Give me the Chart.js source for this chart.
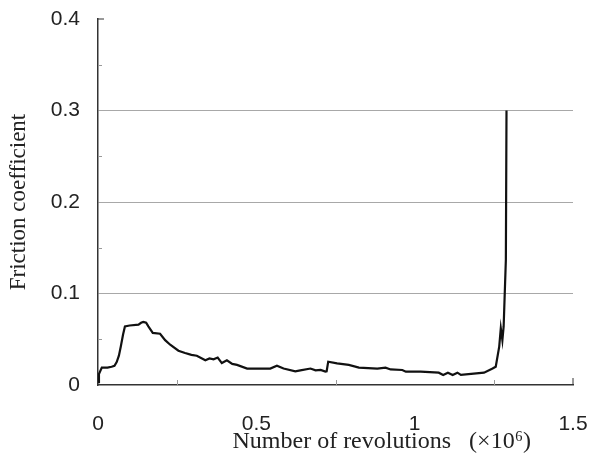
<!DOCTYPE html>
<html>
<head>
<meta charset="utf-8">
<script src="https://cdn.jsdelivr.net/npm/chart.js@4.4.0/dist/chart.umd.min.js"></script>
<style>
  body { margin: 0; background: #fff; }
  #wrap { width: 590px; height: 456px; }
</style>
</head>
<body>
<div id="wrap"><canvas id="myChart" width="590" height="456"></canvas></div>
<script>
const revs = [0, 0.003, 0.012, 0.03, 0.043, 0.052, 0.059, 0.066, 0.072, 0.079,
  0.085, 0.1, 0.128, 0.136, 0.143, 0.152, 0.159, 0.173, 0.196, 0.212,
  0.228, 0.254, 0.275, 0.295, 0.312, 0.339, 0.352, 0.365, 0.378, 0.391,
  0.407, 0.424, 0.439, 0.471, 0.513, 0.544, 0.565, 0.586, 0.623, 0.639,
  0.671, 0.687, 0.703, 0.718, 0.722, 0.727, 0.755, 0.792, 0.824, 0.882,
  0.908, 0.924, 0.961, 0.972, 1.019, 1.076, 1.09, 1.105, 1.12, 1.135,
  1.146, 1.219, 1.246, 1.256, 1.267, 1.272, 1.277, 1.281, 1.288, 1.29];
const friction = [0.003, 0.012, 0.019, 0.019, 0.02, 0.021, 0.025, 0.032, 0.042, 0.055,
  0.064, 0.065, 0.066, 0.068, 0.069, 0.068, 0.064, 0.057, 0.056, 0.049,
  0.044, 0.0375, 0.035, 0.033, 0.032, 0.027, 0.029, 0.028, 0.030, 0.024,
  0.027, 0.023, 0.022, 0.018, 0.018, 0.018, 0.021, 0.018, 0.015, 0.016,
  0.018, 0.016, 0.0165, 0.0146, 0.015, 0.0255, 0.0237, 0.022, 0.019, 0.018,
  0.019, 0.017, 0.0164, 0.0146, 0.0146, 0.0135, 0.011, 0.0135, 0.011, 0.0135,
  0.011, 0.0135, 0.018, 0.02, 0.042, 0.062, 0.049, 0.064, 0.137, 0.30];

const xTicks = [0, 0.5, 1, 1.5];
const yTicks = [0, 0.1, 0.2, 0.3, 0.4];
const yGridLines = [0.1, 0.2, 0.3];
const xMinor = [0.25, 0.75, 1.25];
const yMinor = [0.05, 0.15, 0.25, 0.35];

const points = revs.map((r, i) => ({ x: r, y: friction[i] }));

// small inner ticks like the original print
const minorTicks = {
  id: 'minorTicks',
  afterDraw(chart) {
    const c = chart.ctx, xs = chart.scales.x, ys = chart.scales.y;
    const a = chart.chartArea;
    c.save();
    c.strokeStyle = '#999';
    c.lineWidth = 1;
    c.beginPath();
    xMinor.forEach(v => {
      const px = Math.round(xs.getPixelForValue(v)) + 0.5;
      c.moveTo(px, a.bottom); c.lineTo(px, a.bottom - 5);
    });
    yMinor.forEach(v => {
      const py = Math.round(ys.getPixelForValue(v)) + 0.5;
      c.moveTo(a.left, py); c.lineTo(a.left + 4, py);
    });
    c.stroke();
    c.strokeStyle = '#333';
    c.beginPath();
    // end stubs
    const top = ys.getPixelForValue(0.4);
    c.moveTo(a.left, top); c.lineTo(a.left + 6, top);
    const right = xs.getPixelForValue(1.5);
    c.moveTo(right, a.bottom); c.lineTo(right, a.bottom - 7);
    c.stroke();
    c.restore();
  }
};

const ctx = document.getElementById('myChart').getContext('2d');
const frictionChart = new Chart(ctx, {
  type: 'line',
  data: {
    datasets: [{
      data: points,
      borderColor: '#111',
      borderWidth: 2.2,
      pointRadius: 0,
      tension: 0,
      fill: false
    }]
  },
  options: {
    responsive: false,
    animation: false,
    layout: { padding: { top: 19, right: 17, bottom: 0, left: 0 } },
    plugins: {
      legend: { display: false },
      tooltip: { enabled: false }
    },
    scales: {
      x: {
        type: 'linear',
        min: 0,
        max: 1.5,
        afterBuildTicks: s => { s.ticks = xTicks.map(v => ({ value: v })); },
        ticks: {
          color: '#222',
          padding: 27,
          maxRotation: 0,
          font: { family: 'Liberation Sans', size: 21 },
          callback: v => String(v)
        },
        grid: { display: false, drawTicks: false },
        border: { display: true, color: '#333', width: 1.5 },
        title: {
          display: true,
          align: 'end',
          // trailing spaces keep the title off the right edge, as in the print
          text: 'Number of revolutions   (\u00d710\u2076)       ',
          color: '#222',
          font: { family: 'Liberation Serif', size: 24 },
          padding: { top: -8, bottom: 0 }
        },
        afterFit: s => {
          s.height = 71;
          s.paddingLeft = 0;
          s.paddingRight = 0;
        }
      },
      y: {
        min: 0,
        max: 0.4,
        afterBuildTicks: s => { s.ticks = yTicks.map(v => ({ value: v })); },
        ticks: {
          color: '#222',
          padding: 18,
          font: { family: 'Liberation Sans', size: 21 }
        },
        grid: {
          drawTicks: false,
          lineWidth: 1,
          color: c => yGridLines.includes(c.tick && c.tick.value) ? '#a8a8a8' : 'rgba(0,0,0,0)'
        },
        border: { display: true, color: '#333', width: 1.5 },
        title: {
          display: true,
          text: 'Friction coefficient',
          color: '#222',
          font: { family: 'Liberation Serif', size: 23 },
          padding: { top: 5, bottom: 0 }
        },
        afterFit: s => {
          s.width = 98;
          s.paddingTop = 0;
          s.paddingBottom = 0;
        }
      }
    }
  },
  plugins: [minorTicks]
});
</script>
</body>
</html>
